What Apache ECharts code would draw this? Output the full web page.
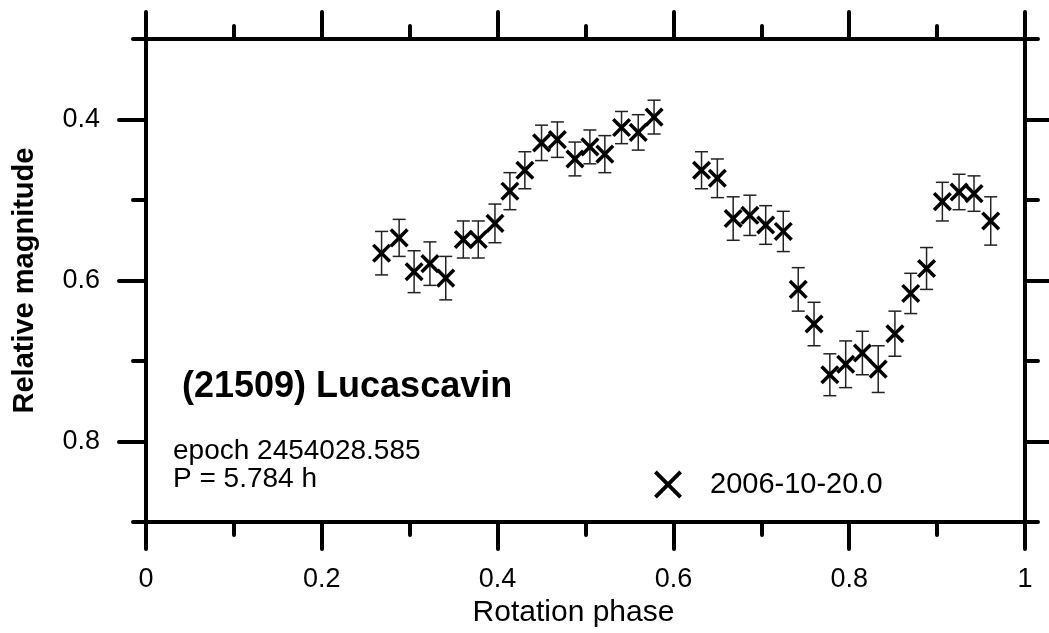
<!DOCTYPE html>
<html>
<head>
<meta charset="utf-8">
<script src="https://cdn.jsdelivr.net/npm/echarts@6/dist/echarts.min.js"></script>
<style>html,body{margin:0;padding:0;background:#fff;}#chart{width:1049px;height:633px;}</style>
</head>
<body>
<div id="chart"></div>
<script>
// Data
var phase = [0.268,0.288,0.305,0.323,0.341,0.361,0.378,0.397,0.414,0.431,0.450,0.468,0.488,0.505,0.522,0.541,0.560,0.578,
             0.632,0.650,0.668,0.687,0.705,0.725,0.742,0.760,0.778,0.796,0.815,0.833,0.852,0.870,0.888,0.906,0.925,0.942,0.961];
var mag = [0.566,0.547,0.589,0.579,0.597,0.549,0.549,0.529,0.489,0.463,0.429,0.425,0.449,0.434,0.443,0.410,0.416,0.397,
           0.463,0.473,0.523,0.519,0.531,0.539,0.611,0.654,0.717,0.704,0.690,0.710,0.666,0.616,0.585,0.502,0.490,0.492,0.526];
var err = [0.027,0.023,0.026,0.027,0.027,0.023,0.023,0.024,0.023,0.023,0.022,0.022,0.021,0.021,0.023,0.020,0.022,0.021,
           0.023,0.024,0.027,0.025,0.024,0.025,0.027,0.027,0.026,0.029,0.027,0.029,0.028,0.025,0.026,0.024,0.022,0.022,0.030];
var seriesName = '2006-10-20.0';
var yMajor = [0.4, 0.6, 0.8];
var titleText = '(21509) Lucascavin';
var noteText = 'epoch 2454028.585\nP = 5.784 h';

var FONT = '"Liberation Sans", Arial, Helvetica, sans-serif';
var chart = echarts.init(document.getElementById('chart'), null, {renderer: 'canvas'});
var data = phase.map(function (p, i) { return [p, mag[i], err[i]]; });

var axisLine = {show: true, lineStyle: {color: '#000', width: 4, cap: 'round'}};
function tickStyle(len) { return {show: true, inside: false, length: len, lineStyle: {color: '#000', width: 4, cap: 'round'}}; }

var option = {
  backgroundColor: '#fff',
  animation: false,
  title: [
    {text: titleText, left: 182, top: 369, padding: 0,
     textStyle: {fontFamily: FONT, fontSize: 36, fontWeight: 'bold', color: '#000', lineHeight: 36}},
    {text: noteText, left: 173, top: 437, padding: 0,
     textStyle: {fontFamily: FONT, fontSize: 28, fontWeight: 'normal', color: '#000', lineHeight: 28}}
  ],
  legend: {
    left: 654, top: 470, padding: 0, itemWidth: 28, itemHeight: 28,
    data: [{name: seriesName, icon: 'path://M10,0L50,40L90,0L100,10L60,50L100,90L90,100L50,60L10,100L0,90L40,50L0,10Z'}],
    textStyle: {fontFamily: FONT, fontSize: 29, color: '#000', padding: [0, 0, 0, 23]}
  },
  grid: {left: 146, right: 24, top: 39, bottom: 106, containLabel: false, show: false},
  xAxis: [
    {type: 'value', position: 'bottom', min: 0, max: 1, interval: 0.2,
     axisLine: axisLine, axisTick: tickStyle(27),
     minorTick: {show: true, splitNumber: 2, length: 13, lineStyle: {color: '#000', width: 4, cap: 'round'}},
     splitLine: {show: false}, minorSplitLine: {show: false},
     axisLabel: {show: true, margin: 44, fontFamily: FONT, fontSize: 27, color: '#000'},
     name: 'Rotation phase', nameLocation: 'middle', nameGap: 68,
     nameTextStyle: {fontFamily: FONT, fontSize: 30, color: '#000', padding: [0, 24, 0, 0]}},
    {type: 'value', position: 'top', min: 0, max: 1, interval: 0.2,
     axisLine: axisLine, axisTick: tickStyle(27),
     minorTick: {show: true, splitNumber: 2, length: 13, lineStyle: {color: '#000', width: 4, cap: 'round'}},
     splitLine: {show: false}, axisLabel: {show: false}}
  ],
  yAxis: [
    {type: 'value', position: 'left', inverse: true, min: 0.3, max: 0.9, interval: 0.1,
     axisLine: axisLine,
     axisTick: {show: true, inside: false, length: 27, customValues: yMajor, lineStyle: {color: '#000', width: 4, cap: 'round'}},
     axisLabel: {show: true, customValues: yMajor, margin: 46, fontFamily: FONT, fontSize: 27, color: '#000'},
     splitLine: {show: false},
     name: 'Relative magnitude', nameLocation: 'middle', nameGap: 107,
     nameTextStyle: {fontFamily: FONT, fontSize: 29, fontWeight: 'bold', color: '#000'}},
    {type: 'value', position: 'left', inverse: true, min: 0.3, max: 0.9, interval: 0.1,
     axisLine: {show: false}, axisTick: tickStyle(13), axisLabel: {show: false}, splitLine: {show: false}},
    {type: 'value', position: 'right', inverse: true, min: 0.3, max: 0.9, interval: 0.1,
     axisLine: axisLine,
     axisTick: {show: true, inside: false, length: 27, customValues: yMajor, lineStyle: {color: '#000', width: 4, cap: 'round'}},
     axisLabel: {show: false}, splitLine: {show: false}},
    {type: 'value', position: 'right', inverse: true, min: 0.3, max: 0.9, interval: 0.1,
     axisLine: {show: false}, axisTick: tickStyle(13), axisLabel: {show: false}, splitLine: {show: false}}
  ],
  series: [{
    name: seriesName,
    type: 'custom',
    xAxisIndex: 0, yAxisIndex: 0,
    itemStyle: {color: '#000'},
    encode: {x: 0, y: 1},
    data: data,
    renderItem: function (params, api) {
      var x = api.value(0), y = api.value(1), e = api.value(2);
      var c = api.coord([x, y]);
      var t = api.coord([x, y - e]);
      var b = api.coord([x, y + e]);
      var cw = 6.5, m = 8.3;
      var es = {stroke: '#222', lineWidth: 1.5, fill: null};
      var ms = {stroke: '#000', lineWidth: 3.5, fill: null};
      return {type: 'group', children: [
        {type: 'line', shape: {x1: c[0], y1: t[1], x2: c[0], y2: b[1]}, style: es},
        {type: 'line', shape: {x1: c[0] - cw, y1: t[1], x2: c[0] + cw, y2: t[1]}, style: es},
        {type: 'line', shape: {x1: c[0] - cw, y1: b[1], x2: c[0] + cw, y2: b[1]}, style: es},
        {type: 'line', shape: {x1: c[0] - m, y1: c[1] - m, x2: c[0] + m, y2: c[1] + m}, style: ms},
        {type: 'line', shape: {x1: c[0] - m, y1: c[1] + m, x2: c[0] + m, y2: c[1] - m}, style: ms}
      ]};
    }
  }]
};
chart.setOption(option);
</script>
</body>
</html>
